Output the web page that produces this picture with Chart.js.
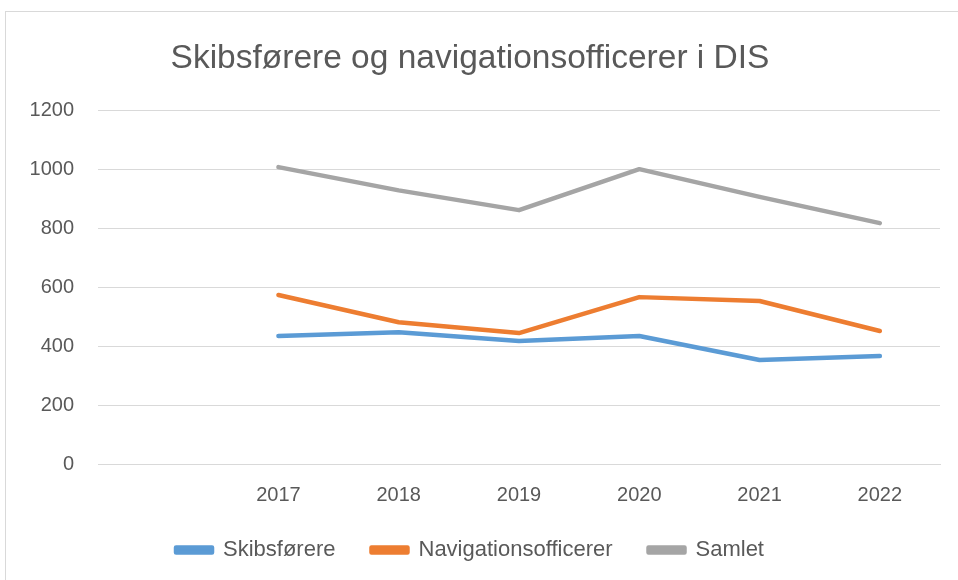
<!DOCTYPE html>
<html>
<head>
<meta charset="utf-8">
<script src="https://cdn.jsdelivr.net/npm/chart.js@4.4.0/dist/chart.umd.min.js"></script>
<style>
  html, body { margin: 0; padding: 0; background: #fff; }
  #frame { position: absolute; left: 5px; top: 11px; width: 960px; height: 580px; border: 1px solid #d9d9d9; }
  #wrap { position: absolute; left: 0; top: 0; width: 958px; height: 580px; }
</style>
</head>
<body>
<div id="frame"></div>
<div id="wrap"><canvas id="chart"></canvas></div>
<script>
// first slot is an empty category, as in the original
const years = ['', '2017', '2018', '2019', '2020', '2021', '2022'];
const skibsforere = [null, 434, 447, 417, 434, 353, 366];
const navigationsofficerer = [null, 573, 481, 444, 566, 553, 451];
const samlet = [null, 1007, 928, 861, 1000, 906, 817];
const yTicks = [0, 200, 400, 600, 800, 1000, 1200];

const textColor = '#595959';
const font = 'Liberation Sans';

function line(label, data, color) {
    return {
        label: label,
        data: data,
        borderColor: color,
        backgroundColor: color,
        borderWidth: 4.5,
        pointRadius: 0,
        borderCapStyle: 'round',
        borderJoinStyle: 'round',
        tension: 0,
    };
}

const ctx = document.getElementById('chart');
const myChart = new Chart(ctx, {
    type: 'line',
    data: {
        labels: years,
        datasets: [
            line('Skibsførere', skibsforere, '#5b9bd5'),
            line('Navigationsofficerer', navigationsofficerer, '#ed7d31'),
            line('Samlet', samlet, '#a5a5a5'),
        ],
    },
    options: {
        responsive: true,
        maintainAspectRatio: false,
        animation: false,
        layout: { padding: { top: 39, right: 18, bottom: 9, left: 0 } },
        plugins: {
            tooltip: { enabled: false },
            title: {
                display: true,
                text: 'Skibsførere og navigationsofficerer i DIS',
                color: textColor,
                font: { family: font, size: 33.5, weight: 'normal' },
                padding: { top: 0, bottom: 31 },
            },
            legend: {
                position: 'bottom',
                labels: {
                    color: textColor,
                    font: { family: font, size: 22 },
                    boxWidth: 36,
                    boxHeight: 5,
                    padding: 36,
                },
            },
        },
        scales: {
            x: {
                offset: true,
                afterFit: (scale) => { scale.height -= 23; },
                grid: { display: false, drawTicks: false },
                border: { display: true, color: '#d9d9d9', width: 1 },
                ticks: { color: textColor, font: { family: font, size: 20 }, padding: 19 },
            },
            y: {
                min: 0,
                max: 1200,
                afterFit: (scale) => { scale.width = 98; },
                afterBuildTicks: (scale) => { scale.ticks = yTicks.map((v) => ({ value: v })); },
                grid: { color: '#d9d9d9', lineWidth: 1, drawTicks: false },
                border: { display: false },
                ticks: {
                    color: textColor,
                    font: { family: font, size: 20 },
                    padding: 24,
                    callback: (v) => String(v),
                },
            },
        },
    },
});
</script>
</body>
</html>
